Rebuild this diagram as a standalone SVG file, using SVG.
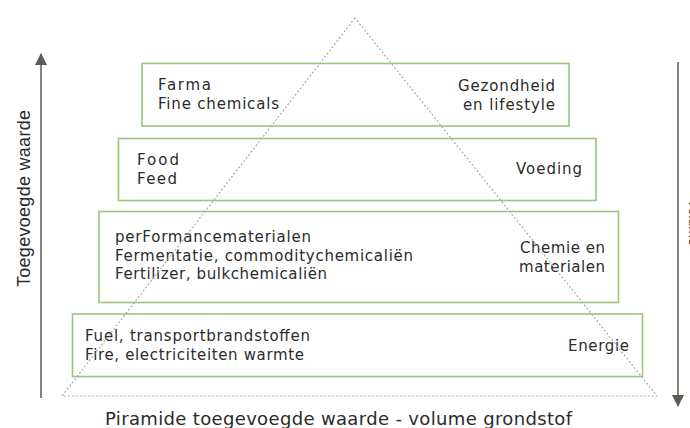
<svg xmlns="http://www.w3.org/2000/svg" width="690" height="428" viewBox="0 0 690 428">
<style>
.box{fill:#fff;stroke:#9dc47c;stroke-width:1.6}
.t{font-family:"DejaVu Sans",sans-serif;font-size:15px;fill:#2b2b2b}
.ax{stroke:#5c5c54;stroke-width:1.5;fill:none}
.tri{fill:none;stroke:#a8a8a8;stroke-width:1.2;stroke-dasharray:2 2}
</style>
<defs>
<marker id="ah" viewBox="0 0 12 12" refX="11" refY="6" markerWidth="12" markerHeight="12" markerUnits="userSpaceOnUse" orient="auto">
<path d="M0,0 L12,6 L0,12 Z" fill="#5c5c54"/>
</marker>
</defs>
<rect width="690" height="428" fill="#fff"/>
<g id="connectors">
<line class="ax" x1="41" y1="398" x2="41" y2="54" marker-end="url(#ah)"/>
<line class="ax" x1="678" y1="62" x2="678" y2="406" marker-end="url(#ah)"/>
</g>
<g id="farma">
<rect class="box" x="142" y="63.5" width="427" height="62.5"/>
<text class="t" x="158" y="90" textLength="53" lengthAdjust="spacing">Farma</text>
<text class="t" x="158" y="109" textLength="121" lengthAdjust="spacing">Fine chemicals</text>
<text class="t" x="458" y="90.5" textLength="97" lengthAdjust="spacing">Gezondheid</text>
<text class="t" x="463" y="109.5" textLength="92" lengthAdjust="spacing">en lifestyle</text>
</g>
<g id="food">
<rect class="box" x="118.5" y="138.5" width="477.5" height="62"/>
<text class="t" x="137" y="165" textLength="42" lengthAdjust="spacing">Food</text>
<text class="t" x="137" y="184" textLength="40" lengthAdjust="spacing">Feed</text>
<text class="t" x="516" y="174" textLength="66" lengthAdjust="spacing">Voeding</text>
</g>
<g id="chemie">
<rect class="box" x="99" y="211.5" width="519.5" height="91"/>
<text class="t" x="115" y="241.5" textLength="196" lengthAdjust="spacing">perFormancematerialen</text>
<text class="t" x="115" y="260.5" textLength="298" lengthAdjust="spacing">Fermentatie, commoditychemicaliën</text>
<text class="t" x="115" y="279" textLength="212" lengthAdjust="spacing">Fertilizer, bulkchemicaliën</text>
<text class="t" x="520" y="252.5" textLength="85" lengthAdjust="spacing">Chemie en</text>
<text class="t" x="519" y="271.5" textLength="86" lengthAdjust="spacing">materialen</text>
</g>
<g id="energie">
<rect class="box" x="72.5" y="314" width="570" height="62.5"/>
<text class="t" x="85" y="341" textLength="225" lengthAdjust="spacing">Fuel, transportbrandstoffen</text>
<text class="t" x="85" y="360" textLength="219" lengthAdjust="spacing">Fire, electriciteiten warmte</text>
<text class="t" x="568" y="350.5" textLength="61" lengthAdjust="spacing">Energie</text>
</g>
<polygon id="pyramid" class="tri" points="355,18 62,396 657,396"/>
<text font-family="Liberation Sans, Arial, sans-serif" font-size="18" fill="#2b2b2b" transform="translate(30,198.5) rotate(-90)" text-anchor="middle" textLength="177" lengthAdjust="spacing">Toegevoegde waarde</text>
<text font-family="Liberation Sans, Arial, sans-serif" font-size="14" fill="#2b2b2b" transform="translate(688.5,199) rotate(90)">Volume</text>
<text font-family="DejaVu Sans, sans-serif" font-size="18" fill="#2b2b2b" x="105" y="425" textLength="467" lengthAdjust="spacing">Piramide toegevoegde waarde - volume grondstof</text>
</svg>
